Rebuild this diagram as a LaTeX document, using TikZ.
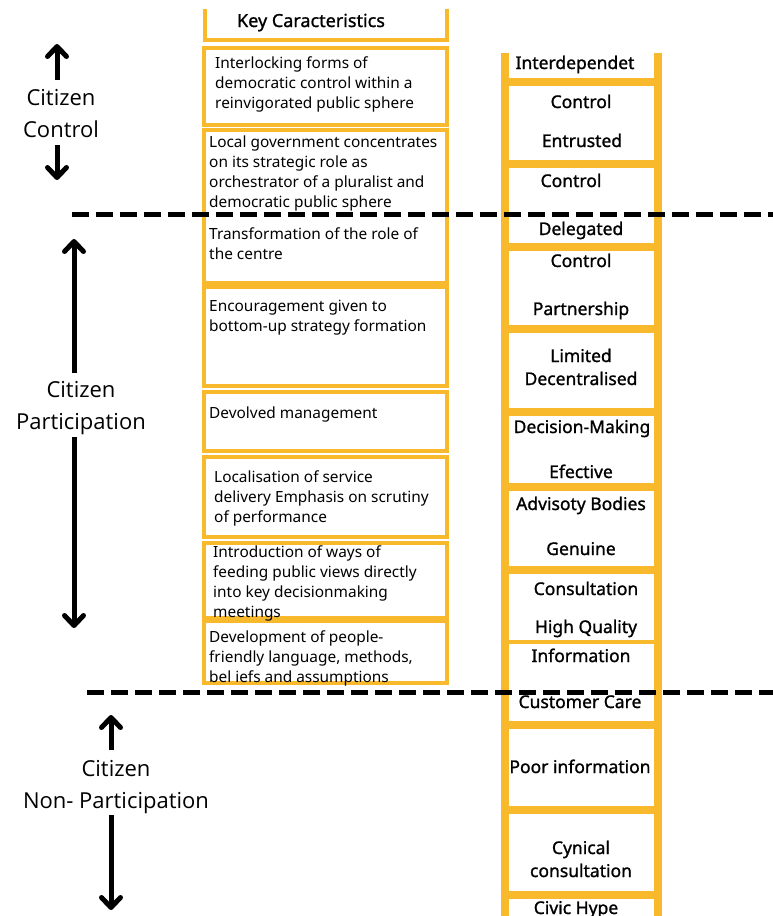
\documentclass[tikz,border=0pt]{standalone}
\usepackage{fontspec}
\setmainfont{Noto Sans}
\newfontfamily\sidefont{Open Sans}
\newfontfamily\rungfont[FakeBold=1.2]{Noto Sans}
\usepackage{tikz}
\usetikzlibrary{arrows.meta}
\definecolor{ladderyellow}{HTML}{F8BA2C}
\tikzstyle{keybox}=[draw=ladderyellow,line width=4pt]
\tikzstyle{rail}=[draw=ladderyellow,line width=8pt]
\tikzstyle{rung}=[draw=ladderyellow,line width=8pt]
\tikzstyle{boxtext}=[anchor=base west,inner sep=0pt,align=left,font=\fontsize{15.4}{19.7}\selectfont]
\tikzstyle{rungtext}=[anchor=base,inner sep=0pt,align=center,font=\rungfont\fontsize{17.5}{23}\selectfont]
\tikzstyle{sidelabel}=[anchor=base,inner sep=0pt,align=center,font=\sidefont\fontsize{22}{32}\selectfont]
\tikzstyle{bigarrow}=[line width=5pt,-{Straight Barb[round,length=10pt,width=19pt]}]
\tikzstyle{divider}=[line width=5pt,dash pattern=on 17pt off 7pt]

\begin{document}
\begin{tikzpicture}[x=1pt,y=-1pt]
	\useasboundingbox (0,0) rectangle (773,916);
	% key characteristics column
	\draw[keybox] (205,9) -- (205,40) -- (447,40) -- (447,9);
	\draw[keybox] (204,48) rectangle (447,125);
	\draw[keybox] (204,130) rectangle (447,283);
	\draw[keybox] (204,287) rectangle (447,386);
	\draw[keybox] (204,392) rectangle (447,451);
	\draw[keybox] (204,457) rectangle (447,537);
	\draw[keybox] (204,543) rectangle (447,618);
	\draw[keybox] (204,621) rectangle (447,683);
	\node[rungtext,font=\rungfont\fontsize{18}{20}\selectfont] (kc) at (311,27) {Key Caracteristics};
	\node[boxtext] (k1) at (215,108) {Interlocking forms of\\democratic control within a\\reinvigorated public sphere};
	\node[boxtext] (k2) at (209,207) {Local government concentrates\\on its strategic role as\\orchestrator of a pluralist and\\democratic public sphere};
	\node[boxtext] (k3) at (209,259) {Transformation of the role of\\the centre};
	\node[boxtext] (k4) at (209,331) {Encouragement given to\\bottom-up strategy formation};
	\node[boxtext] (k5) at (209,418) {Devolved management};
	\node[boxtext] (k6) at (214,522) {Localisation of service\\delivery Emphasis on scrutiny\\of performance};
	\node[boxtext] (k7) at (213,617) {Introduction of ways of\\feeding public views directly\\into key decisionmaking\\meetings};
	\node[boxtext] (k8) at (209,682) {Development of people-\\friendly language, methods,\\bel iefs and assumptions};
	% ladder
	\coordinate (railL) at (505,53);
	\coordinate (railR) at (658,53);
	\draw[rail] (railL) -- (505,916);
	\draw[rail] (railR) -- (658,916);
	\foreach \y in {82,164,247,329,412,487,570,725,810,895}
		\draw[rung] (505,\y) -- (658,\y);
	\draw[rung,line width=4pt] (505,642) -- (658,642);
	\node[rungtext] (r1) at (575,69) {Interdependet};
	\node[rungtext] (r2) at (581,108) {Control};
	\node[rungtext] (r3) at (582,147) {Entrusted};
	\node[rungtext] (r4) at (571,187) {Control};
	\node[rungtext] (r5) at (581,235) {Delegated};
	\node[rungtext] (r6) at (581,267) {Control};
	\node[rungtext] (r7) at (581,315) {Partnership};
	\node[rungtext] (r8) at (581,385) {Limited\\Decentralised};
	\node[rungtext] (r9) at (582,433) {Decision-Making};
	\node[rungtext] (r10) at (581,478) {Efective};
	\node[rungtext] (r11) at (581,510) {Advisoty Bodies};
	\node[rungtext] (r12) at (581,555) {Genuine};
	\node[rungtext] (r13) at (586,595) {Consultation};
	\node[rungtext] (r14) at (586,633) {High Quality};
	\node[rungtext] (r15) at (581,662) {Information};
	\node[rungtext] (r16) at (580,708) {Customer Care};
	\node[rungtext] (r17) at (580,773) {Poor information};
	\node[rungtext] (r18) at (581,877) {Cynical\\consultation};
	\node[rungtext] (r19) at (576,914) {Civic Hype};
	% levels
	\coordinate (d1) at (72,214);
	\coordinate (d2) at (87,692);
	\draw[divider] (d1) -- (773,214);
	\draw[divider] (d2) -- (773,692);
	\node[sidelabel] (control) at (61,137) {Citizen\\Control};
	\node[sidelabel] (particip) at (81,429) {Citizen\\Participation};
	\node[sidelabel] (nonpart) at (116,808) {Citizen\\Non- Participation};
	\coordinate (c1) at (57,80);
	\coordinate (c2) at (57,145);
	\coordinate (p1) at (74,373);
	\coordinate (p2) at (74,437);
	\coordinate (n1) at (111,750);
	\coordinate (n2) at (111,815);
	\draw[bigarrow] (c1) -- (57,44);
	\draw[bigarrow] (c2) -- (57,180);
	\draw[bigarrow] (p1) -- (74,239);
	\draw[bigarrow] (p2) -- (74,628);
	\draw[bigarrow] (n1) -- (111,715);
	\draw[bigarrow] (n2) -- (111,910);
\end{tikzpicture}
\end{document}
